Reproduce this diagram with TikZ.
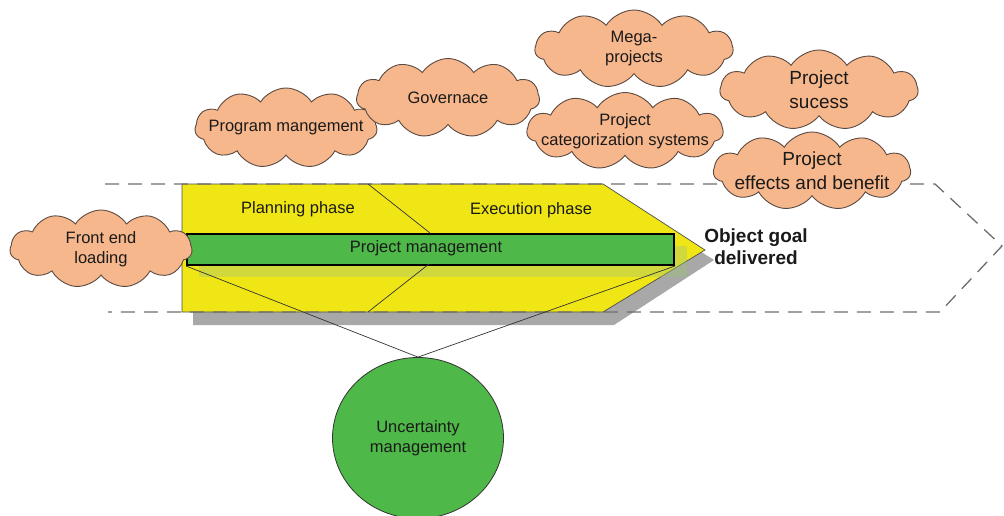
\documentclass[tikz,border=0pt]{standalone}
\usepackage{fontspec}
\setmainfont{Liberation Sans}
\usetikzlibrary{shapes.symbols,shapes.geometric}
\definecolor{cloudfill}{RGB}{247,183,140}
\definecolor{cloudline}{RGB}{90,74,66}
\definecolor{phaseyellow}{RGB}{240,230,22}
\definecolor{pmgreen}{RGB}{78,184,72}
\definecolor{shadowgray}{RGB}{168,168,168}
\definecolor{dashgray}{RGB}{110,110,110}
\definecolor{txt}{RGB}{26,26,26}
\tikzset{
  puff/.style={cloud, cloud puffs=11, cloud puff arc=115, cloud ignores aspect,
    fill=cloudfill, draw=cloudline, line width=0.9pt, inner sep=0pt},
  smalltxt/.style={font=\fontsize{16.5}{20}\selectfont, text=txt, align=center},
  bigtxt/.style={font=\fontsize{19}{24}\selectfont, text=txt, align=center},
  thinline/.style={draw=black!80, line width=0.7pt},
}
\begin{document}
\begin{tikzpicture}[x=1pt,y=-1pt]
\useasboundingbox (0,0) rectangle (1004,516);
% shadow of the phase arrow
\fill[shadowgray] (193,197) -- (614,197) -- (714,260) -- (614,325) -- (193,325) -- cycle;
% phase arrow
\filldraw[fill=phaseyellow, draw=black!70, line width=0.7pt]
  (182,184) -- (603,184) -- (705,250) -- (603,312) -- (182,312) -- cycle;
% dashed scope outline
\draw[dashgray, line width=1.3pt, dash pattern=on 14pt off 9pt]
  (105,184) -- (935,184) -- (1002,246) -- (940,312) -- (108,312);
% shadow of the project management bar
\fill[fill={rgb,255:red,160;green,195;blue,120}, fill opacity=0.4] (199,246) rectangle (687,277);
% project management bar
\node[draw=black, line width=2pt, fill=pmgreen, minimum width=487pt, minimum height=31pt,
  inner sep=0pt, anchor=north west] (pm) at (186,233) {};
\node[smalltxt] (pmt) at (426,248) {Project management};
% phase boundary
\coordinate (b1) at (368,184);
\coordinate (b2) at (430,233);
\coordinate (b3) at (429,264);
\coordinate (b4) at (368,312);
\draw[thinline] (b1) -- (b2);
\draw[thinline] (b3) -- (b4);
\node[smalltxt] (plan) at (298,209) {Planning phase};
\node[smalltxt] (exec) at (531,210) {Execution phase};
\node[font=\fontsize{19}{22}\selectfont\bfseries, text=txt, align=center] (goal) at (756,247) {Object goal\\delivered};
% uncertainty management
\node[ellipse, draw=black!80, line width=0.8pt, fill=pmgreen, minimum width=171pt,
  minimum height=161pt, inner sep=0pt, smalltxt] (um) at (418,438) {Uncertainty\\management};
\draw[thinline] (pm.south west) -- (um.north);
\draw[thinline] (pm.south east) -- (um.north);
% clouds
\node[puff, minimum width=182pt, minimum height=78pt,
  label={[smalltxt]center:Front end\\loading}] (fel) at (101,249) {};
\node[puff, minimum width=182pt, minimum height=80pt,
  label={[smalltxt]center:Program mangement}] (prog) at (286,128) {};
\node[puff, minimum width=183pt, minimum height=79pt,
  label={[smalltxt]center:Governace}] (gov) at (448,98) {};
\node[puff, minimum width=198pt, minimum height=78pt,
  label={[smalltxt]center:Mega-\\projects}] (mega) at (634,49) {};
\node[puff, minimum width=196pt, minimum height=77pt,
  label={[smalltxt]center:Project\\categorization systems}] (cat) at (625,131) {};
\node[puff, minimum width=198pt, minimum height=80pt,
  label={[bigtxt]center:Project\\sucess}] (succ) at (819,90) {};
\node[puff, minimum width=197pt, minimum height=78pt,
  label={[bigtxt]center:Project\\effects and benefit}] (eff) at (812,171) {};
\end{tikzpicture}
\end{document}
